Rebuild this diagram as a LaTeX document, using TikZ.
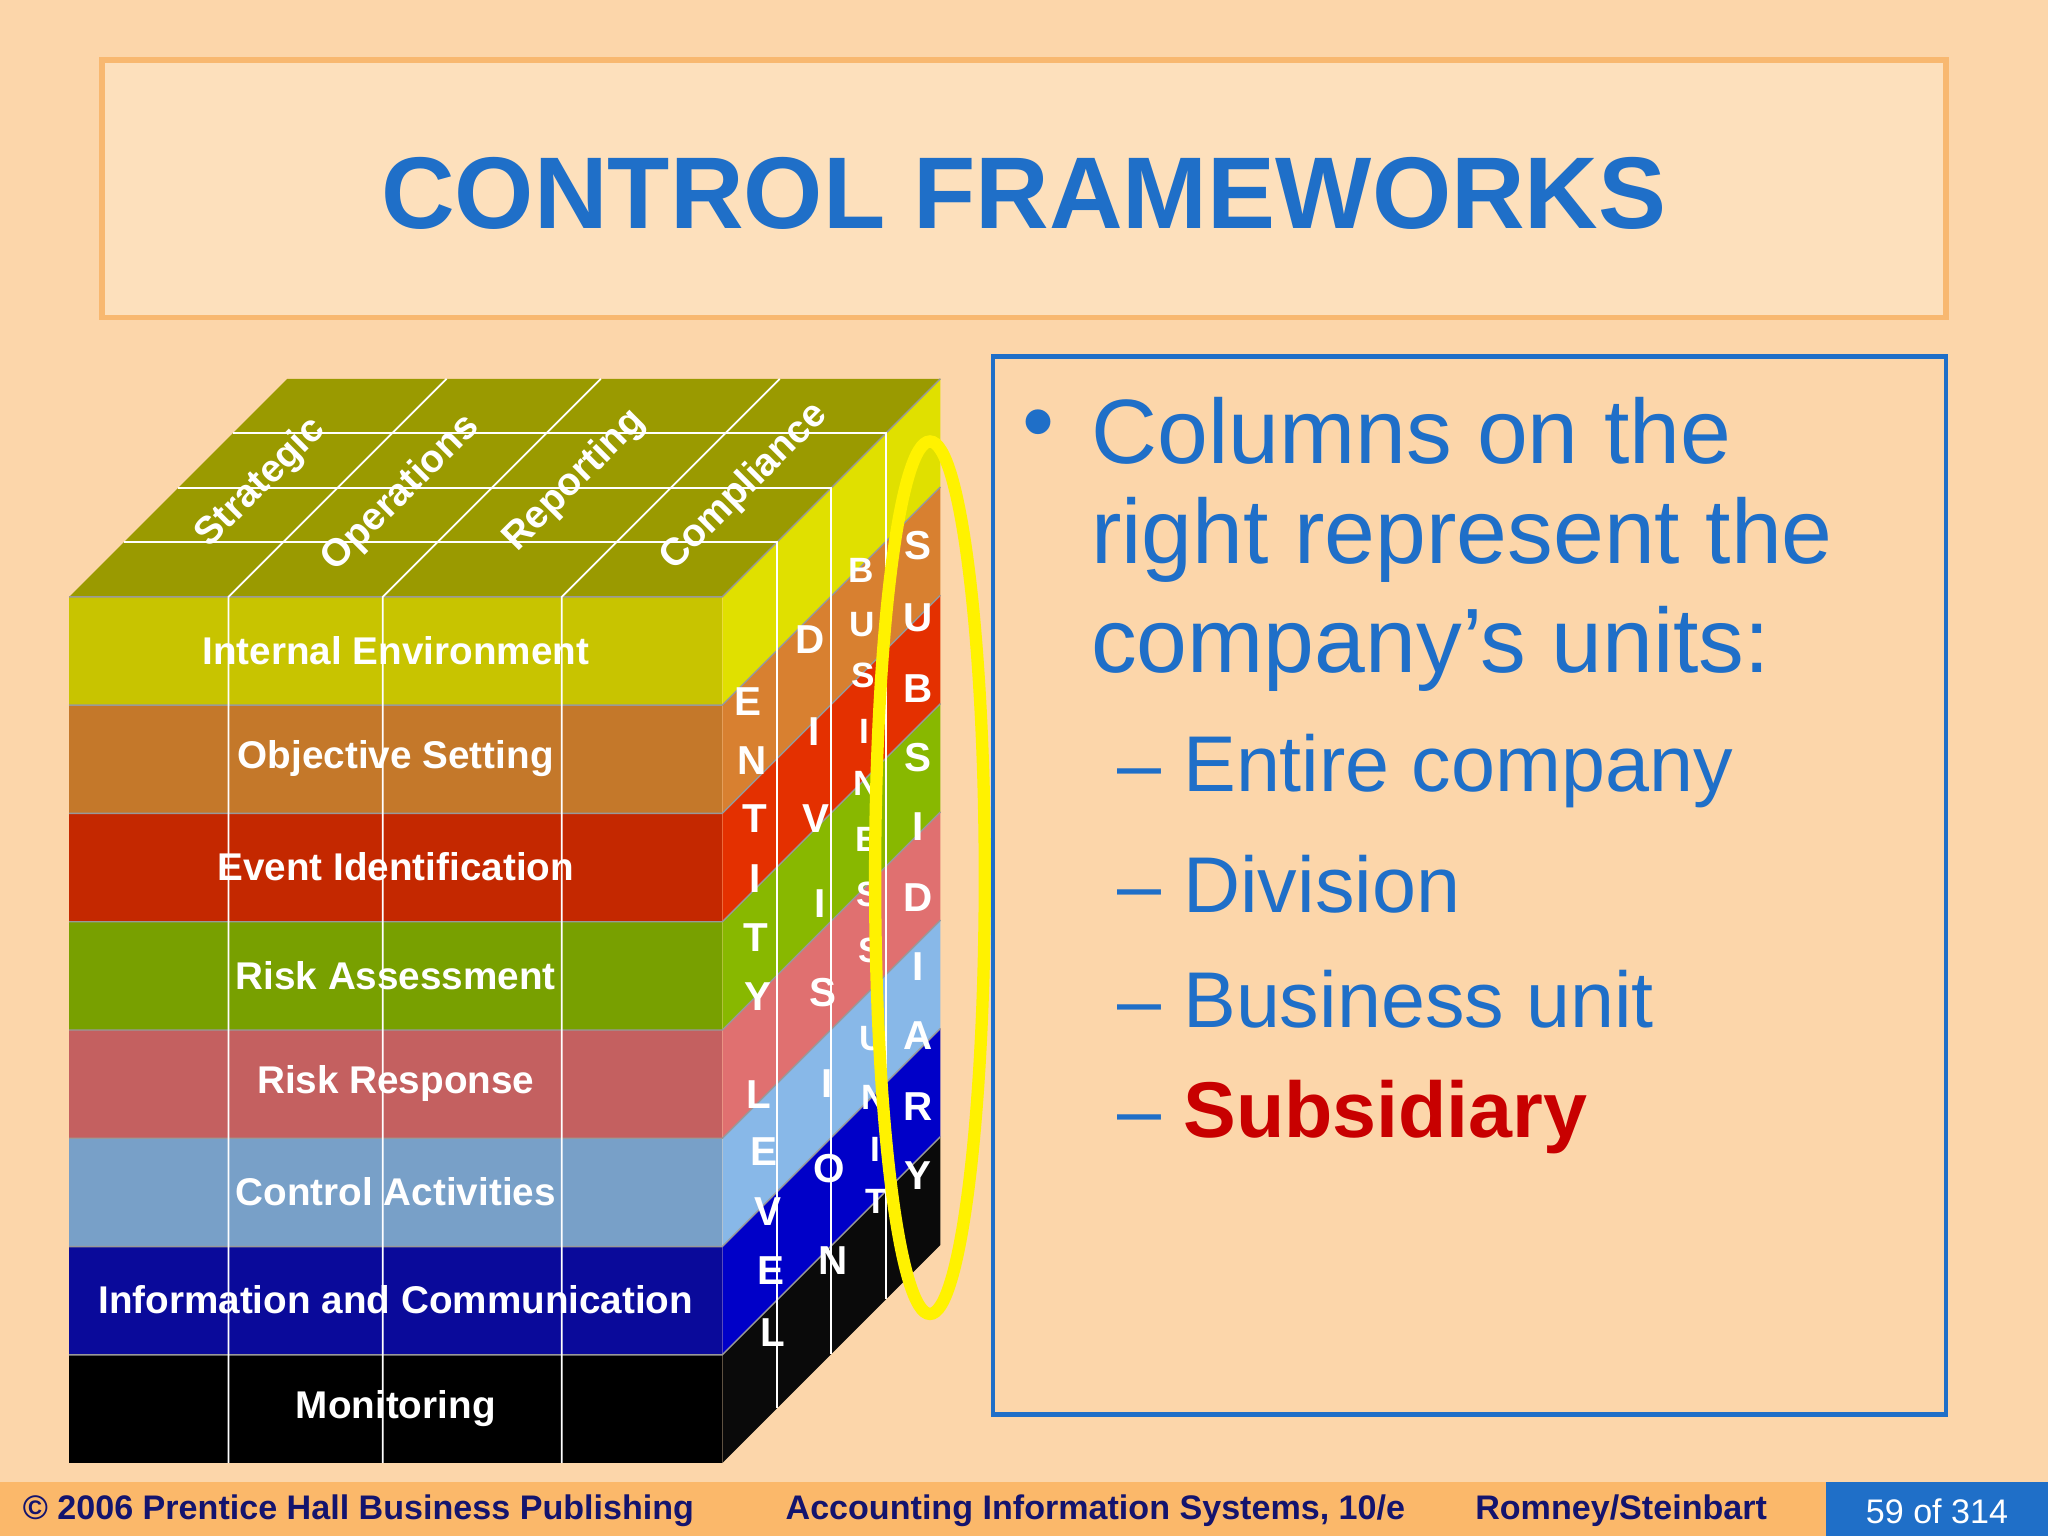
\documentclass[tikz,border=0pt]{standalone}
\usepackage{fontspec}
\setmainfont{Liberation Sans}
\definecolor{bg}{RGB}{252,214,170}
\definecolor{titlebg}{RGB}{253,224,188}
\definecolor{titlebd}{RGB}{248,184,112}
\definecolor{blu}{RGB}{31,111,200}
\definecolor{foot}{RGB}{251,184,106}
\definecolor{navy}{RGB}{20,20,110}
\definecolor{fa}{RGB}{200,196,0}\definecolor{ra}{RGB}{224,224,0}
\definecolor{fb}{RGB}{196,120,42}\definecolor{rb}{RGB}{216,128,48}
\definecolor{fc}{RGB}{196,40,0}\definecolor{rc}{RGB}{228,48,0}
\definecolor{fd}{RGB}{120,160,0}\definecolor{rd}{RGB}{136,184,0}
\definecolor{fe}{RGB}{196,96,96}\definecolor{re}{RGB}{224,112,112}
\definecolor{ff}{RGB}{120,160,200}\definecolor{rf}{RGB}{136,184,232}
\definecolor{fg}{RGB}{10,10,154}\definecolor{rg}{RGB}{0,0,200}
\definecolor{fh}{RGB}{0,0,0}\definecolor{rh}{RGB}{10,10,10}
\definecolor{topc}{RGB}{154,154,0}
\tikzset{lay/.style={font=\bfseries\fontsize{11}{13}\selectfont,text=white},
 let/.style={font=\bfseries\fontsize{11.5}{12}\selectfont,text=white},
 toplab/.style={font=\bfseries\fontsize{11}{13}\selectfont,text=white,rotate=45},
 bul/.style={font=\fontsize{26}{30}\selectfont,text=blu,anchor=west},
 sub/.style={font=\fontsize{22.5}{27}\selectfont,text=blu,anchor=west},
 ft/.style={font=\bfseries\fontsize{9.7}{11}\selectfont,text=navy,anchor=west}}
\begin{document}
\begin{tikzpicture}[x=0.01306cm,y=-0.01306cm]
\fill[bg] (0,0) rectangle (1568,1176);
\useasboundingbox (0,0) rectangle (1568,1176);
% title
\draw[titlebd,line width=1.6pt,fill=titlebg] (78,46) rectangle (1490,243);
\node (title) at (784,148) {\bfseries\fontsize{29}{34}\selectfont\color{blu}CONTROL FRAMEWORKS};
% right box
\draw[blu,line width=1.2pt] (760,273) rectangle (1490,1083);
\node[bul] (b0) at (773,330) {•};
\node[bul] (b1) at (826,330) {Columns on the};
\node[bul] (b2) at (826,413) {right represent the};
\node[bul] (b3) at (826,497) {company’s units:};
\node[sub] (s1) at (846,590) {– Entire company};
\node[sub] (s2) at (846,677) {– Division};
\node[sub] (s3) at (846,765) {– Business unit};
\node[sub] (s4) at (846,855) {– \textcolor[RGB]{200,0,0}{\bfseries Subsidiary}};
% cube top
\fill[topc] (53,457)--(220,290)--(720,290)--(553,457)--cycle;
% layers
\foreach \i/\f/\r in {0/fa/ra,1/fb/rb,2/fc/rc,3/fd/rd,4/fe/re,5/ff/rf,6/fg/rg,7/fh/rh}{
  \pgfmathsetmacro\ya{457+82.9*\i}\pgfmathsetmacro\yb{457+82.9*(\i+1)}
  \fill[\f] (53,\ya) rectangle (553,\yb);
  \fill[\r] (553,\ya)--(720,\ya-167)--(720,\yb-167)--(553,\yb)--cycle;
  \draw[black!40,line width=0.4pt] (53,\ya)--(553,\ya)--(720,\ya-167);
}
% grid lines
\foreach \x in {175,293,430}{
  \draw[white,line width=0.5pt] (\x,1120)--(\x,457)--(\x+167,290);}
\foreach \d in {41.75,83.5,125.25}{
  \draw[white,line width=0.5pt] (53+\d,457-\d)--(553+\d,457-\d)--(553+\d,1120-\d);}
% layer labels
\foreach \i/\t in {0/Internal Environment,1/Objective Setting,2/Event Identification,3/Risk Assessment,4/Risk Response,5/Control Activities,6/Information and Communication,7/Monitoring}{
  \node[lay] (l\i) at (303,{457+82.9*\i+41}) {\t};}
% top labels
\node[toplab] (t1) at (200,370) {Strategic};
\node[toplab] (t2) at (307,378) {Operations};
\node[toplab] (t3) at (440,368) {Reporting};
\node[toplab] (t4) at (570,373) {Compliance};
% vertical words
\foreach \c/\x/\y [count=\n] in {E/573/537,N/576/582,T/578/627,I/578/673,T/579/718,Y/580/763,L/581/838,E/585/882,V/588/928,E/590/973,L/592/1020}
  \node[let] (e\n) at (\x,\y) {\c};
\foreach \c/\x/\y [count=\n] in {D/620/490,I/623/560,V/625/627,I/628/692,S/630/760,I/633/830,O/635/895,N/638/965}
  \node[let] (d\n) at (\x,\y) {\c};
\foreach \c/\x/\y [count=\n] in {B/659/437,U/660/478,S/661/517,I/662/560,N/663/600,E/664/643,S/665/685,S/666/728,U/668/795,N/669/840,I/670/880,T/671/920}
  \node[let,font=\bfseries\fontsize{10}{11}\selectfont] (u\n) at (\x,\y) {\c};
\foreach \c/\y [count=\n] in {S/418,U/473,B/527,S/580,I/633,D/687,I/740,A/793,R/847,Y/900}
  \node[let] (y\n) at (703,\y) {\c};
% ellipse
\draw[yellow,line width=3.5pt] (712,672) ellipse [x radius=42,y radius=334];
% footer
\fill[foot] (0,1135) rectangle (1568,1176);
\fill[blu] (1398,1135) rectangle (1568,1176);
\node[ft] (f1) at (8,1157) {© 2006 Prentice Hall Business Publishing};
\node[ft] (f2) at (592,1157) {Accounting Information Systems, 10/e};
\node[ft] (f3) at (1120,1157) {Romney/Steinbart};
\node[font=\fontsize{9.7}{11}\selectfont,text=white] (f4) at (1483,1157) {59 of 314};
\end{tikzpicture}
\end{document}
